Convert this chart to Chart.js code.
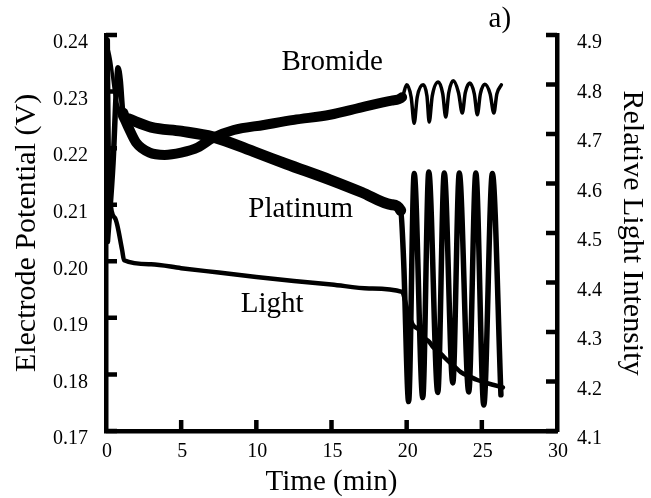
<!DOCTYPE html>
<html>
<head>
<meta charset="utf-8">
<script src="https://cdn.jsdelivr.net/npm/chart.js@4.4.1/dist/chart.umd.min.js"></script>
<style>
  html, body { margin: 0; padding: 0; background: #fff; }
</style>
</head>
<body>
<canvas id="chart" width="651" height="498"></canvas>
<script>
// Tick labels
const timeTicks = [0, 5, 10, 15, 20, 25, 30];
const potentialTicks = [0.17, 0.18, 0.19, 0.20, 0.21, 0.22, 0.23, 0.24];
const lightTicks = [4.1, 4.2, 4.3, 4.4, 4.5, 4.6, 4.7, 4.8, 4.9];

// Bromide electrode potential (V) vs time (min)
const bromideTime = [0.05, 0.3, 0.6, 0.9, 1.13, 1.5, 2.0, 2.9, 3.9, 5.0, 6.1, 7.1, 8.5, 10.5, 12.5, 14.9, 17.0, 19.0, 19.7,
  20.0, 20.3, 20.5, 20.7, 21.1, 21.35, 21.5, 21.7, 22.1, 22.4, 22.6, 22.8, 23.1, 23.45, 23.7, 23.9,
  24.2, 24.5, 24.7, 24.9, 25.2, 25.55, 25.8, 26.0, 26.3];
const bromidePotential = [0.2385, 0.2355, 0.2295, 0.2265, 0.2257, 0.2236, 0.2210, 0.2192, 0.2188, 0.2192, 0.2201, 0.2218, 0.2232, 0.2241, 0.2250, 0.2259, 0.2272, 0.2284, 0.2290,
  0.2312, 0.2290, 0.2244, 0.2290, 0.2312, 0.2292, 0.2246, 0.2292, 0.2317, 0.2296, 0.2255, 0.2298, 0.2319, 0.2298, 0.2262, 0.2298,
  0.2315, 0.2296, 0.2259, 0.2296, 0.2313, 0.2296, 0.2262, 0.2296, 0.2312];

// Platinum electrode potential (V) vs time (min)
const platinumTime = [0.1, 0.47, 0.7, 0.8, 0.95, 1.13, 1.47, 3.0, 5.0, 7.1, 10.0, 12.0, 14.9, 17.0, 19.0, 19.6, 19.8,
  20.13, 20.5, 21.07, 21.47, 22.07, 22.5, 23.07, 23.5, 24.13, 24.6, 25.13, 25.7, 26.27];
const platinumPotential = [0.2035, 0.2174, 0.2310, 0.2342, 0.2320, 0.2262, 0.2252, 0.2237, 0.2230, 0.2220, 0.2192, 0.2172, 0.2144, 0.2122, 0.2100, 0.2090, 0.2000,
  0.1752, 0.2155, 0.1759, 0.2158, 0.1768, 0.2156, 0.1785, 0.2156, 0.1769, 0.2156, 0.1746, 0.2155, 0.1764];

// Relative light intensity vs time (min)
const lightTime = [0.12, 0.2, 0.6, 1.07, 1.2, 3.0, 5.0, 7.5, 10.0, 12.5, 15.0, 17.5, 19.7,
  20.0, 20.4, 20.8, 21.1, 21.5, 21.8, 22.3, 22.7, 23.2, 23.6, 24.2, 24.7, 25.3, 25.8, 26.4];
const lightIntensity = [4.89, 4.60, 4.53, 4.466, 4.445, 4.437, 4.429, 4.420, 4.411, 4.403, 4.396, 4.388, 4.381,
  4.350, 4.315, 4.305, 4.290, 4.280, 4.268, 4.255, 4.243, 4.230, 4.219, 4.210, 4.203, 4.197, 4.193, 4.188];

const seriesNames = ["Bromide", "Platinum", "Light"];

const toPoints = (xs, ys) => xs.map((x, i) => ({ x: x, y: ys[i] }));

const serif = "'Liberation Serif', 'Times New Roman', serif";

// inward tick marks + curve names
const frameTicks = {
  id: "frameTicks",
  afterDatasetsDraw(chart) {
    const { ctx, chartArea: a, scales } = chart;
    ctx.save();
    ctx.strokeStyle = "#000";
    ctx.lineWidth = 4.5;
    ctx.beginPath();
    potentialTicks.forEach((v) => {
      const y = scales.y.getPixelForValue(v);
      ctx.moveTo(a.left, y);
      ctx.lineTo(a.left + 11, y);
    });
    lightTicks.forEach((v) => {
      const y = scales.y2.getPixelForValue(v);
      ctx.moveTo(a.right, y);
      ctx.lineTo(a.right - 11, y);
    });
    timeTicks.slice(1, -1).forEach((v) => {
      const x = scales.x.getPixelForValue(v);
      ctx.moveTo(x, a.bottom);
      ctx.lineTo(x, a.bottom - 11);
    });
    ctx.stroke();

    ctx.fillStyle = "#000";
    ctx.font = "29px " + serif;
    ctx.textAlign = "center";
    ctx.textBaseline = "middle";
    const X = (t) => scales.x.getPixelForValue(t);
    const Y = (v) => scales.y.getPixelForValue(v);
    ctx.fillText(seriesNames[0], X(15.05), Y(0.2352));
    ctx.fillText(seriesNames[1], X(12.95), Y(0.2092));
    ctx.fillText(seriesNames[2], X(11.05), Y(0.1924));
    ctx.fillText("a)", X(26.2), Y(0.2427));
    ctx.restore();
  },
};

new Chart(document.getElementById("chart").getContext("2d"), {
  type: "line",
  data: {
    datasets: [
      {
        label: seriesNames[0],
        data: toPoints(bromideTime, bromidePotential),
        yAxisID: "y",
        borderColor: "#000",
        borderWidth: 3.5,
        pointRadius: 0,
        cubicInterpolationMode: "monotone",
        borderJoinStyle: "round",
        borderCapStyle: "round",
        segment: {
          borderWidth: (c) => (c.p0.parsed.x >= 1.13 && c.p1.parsed.x <= 19.7 ? 10 : 3.5),
        },
      },
      {
        label: seriesNames[1],
        data: toPoints(platinumTime, platinumPotential),
        yAxisID: "y",
        borderColor: "#000",
        borderWidth: 5.5,
        pointRadius: 0,
        cubicInterpolationMode: "monotone",
        borderJoinStyle: "round",
        borderCapStyle: "round",
        segment: {
          borderWidth: (c) => (c.p0.parsed.x >= 1.13 && c.p1.parsed.x <= 19.6 ? 11 : 5.5),
        },
      },
      {
        label: seriesNames[2],
        data: toPoints(lightTime, lightIntensity),
        yAxisID: "y2",
        borderColor: "#000",
        borderWidth: 4.5,
        pointRadius: 0,
        cubicInterpolationMode: "monotone",
        borderJoinStyle: "round",
        borderCapStyle: "round",
      },
    ],
  },
  options: {
    responsive: false,
    animation: false,
    layout: { padding: { top: 35, left: 0, right: 0, bottom: 0 } },
    plugins: {
      legend: { display: false },
      tooltip: { enabled: false },
    },
    scales: {
      x: {
        type: "linear",
        min: 0,
        max: 30,
        afterBuildTicks: (s) => { s.ticks = timeTicks.map((v) => ({ value: v })); },
        afterFit: (s) => { s.height = 67; },
        grid: { display: false, drawTicks: false },
        border: { display: true, color: "#000", width: 4.5 },
        ticks: {
          color: "#000",
          padding: 9,
          labelOffset: 1,
          font: { family: serif, size: 20 },
          callback: (v) => String(v),
        },
        title: {
          display: true,
          text: "Time (min)",
          color: "#000",
          font: { family: serif, size: 29, lineHeight: 1 },
          padding: { top: 0, bottom: 1 },
        },
      },
      y: {
        type: "linear",
        position: "left",
        min: 0.17,
        max: 0.24,
        afterBuildTicks: (s) => { s.ticks = potentialTicks.map((v) => ({ value: v })); },
        afterFit: (s) => { s.width = 106; },
        grid: { display: false, drawTicks: false },
        border: { display: true, color: "#000", width: 4.5 },
        ticks: {
          color: "#000",
          padding: 18,
          labelOffset: 8,
          font: { family: serif, size: 20 },
          callback: (v) => v.toFixed(2),
        },
        title: {
          display: true,
          text: "Electrode Potential (V)",
          color: "#000",
          font: { family: serif, size: 30, lineHeight: 1 },
          padding: { top: 12, bottom: 0 },
        },
      },
      y2: {
        type: "linear",
        position: "right",
        min: 4.1,
        max: 4.9,
        afterBuildTicks: (s) => { s.ticks = lightTicks.map((v) => ({ value: v })); },
        afterFit: (s) => { s.width = 94; },
        grid: { display: false, drawTicks: false },
        border: { display: true, color: "#000", width: 4.5 },
        ticks: {
          color: "#000",
          padding: 20,
          labelOffset: 8,
          font: { family: serif, size: 20 },
          callback: (v) => v.toFixed(1),
        },
        title: {
          display: true,
          text: "Relative Light Intensity",
          color: "#000",
          font: { family: serif, size: 30, lineHeight: 1 },
          padding: { top: 4, bottom: 0 },
        },
      },
    },
  },
  plugins: [frameTicks],
});
</script>
</body>
</html>
